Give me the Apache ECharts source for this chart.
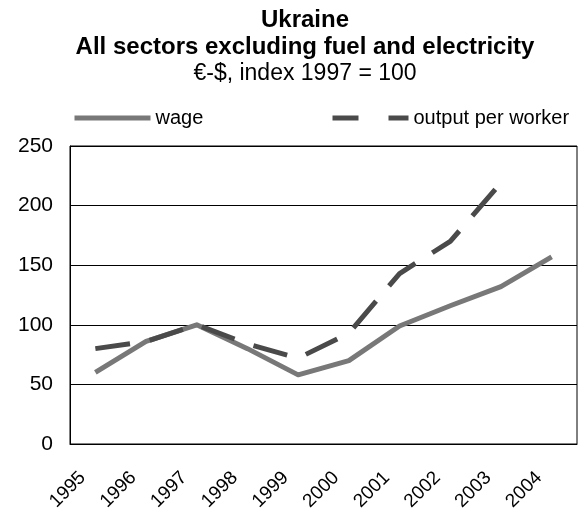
<!DOCTYPE html>
<html>
<head>
<meta charset="utf-8">
<script src="https://cdn.jsdelivr.net/npm/echarts@6/dist/echarts.min.js"></script>
<style>
  html, body { margin: 0; padding: 0; background: #fff; }
  #chart { width: 582px; height: 511px; }
</style>
</head>
<body>
<div id="chart"></div>
<script>
// Years on the category axis
const years = ['1995', '1996', '1997', '1998', '1999', '2000', '2001', '2002', '2003', '2004'];
// Index values, 1997 = 100
const wage = [60, 86, 100, 80, 58, 70, 99, 116, 132, 157];
const outputPerWorker = [80, 86, 100, 84, 72, 93, 143, 170, 219, null];
// Value axis ticks
const yTicks = [0, 50, 100, 150, 200, 250];

const FONT = 'Liberation Sans, Arial, sans-serif';
const WAGE_COLOR = '#787878';
const OUTPUT_COLOR = '#4a4a4a';

const chart = echarts.init(document.getElementById('chart'), null, { renderer: 'canvas' });

const titleStyle = (size, weight) => ({ fontFamily: FONT, fontSize: size, fontWeight: weight, color: '#000' });
const legendBase = {
  orient: 'horizontal', padding: 0, itemHeight: 20, itemWidth: 76, itemGap: 0,
  itemStyle: { opacity: 0 },
  textStyle: { fontFamily: FONT, fontSize: 20, color: '#000' }
};

chart.setOption({
  animation: false,
  backgroundColor: '#ffffff',
  title: [
    { text: 'Ukraine', left: 305, textAlign: 'center', top: 8, padding: 0, textStyle: titleStyle(24, 'bold') },
    { text: 'All sectors excluding fuel and electricity', left: 305, textAlign: 'center', top: 35, padding: 0,
      textStyle: titleStyle(24, 'bold') },
    { text: '€-$, index 1997 = 100', left: 305, textAlign: 'center', top: 62, padding: 0,
      textStyle: titleStyle(23, 'normal') }
  ],
  legend: [
    Object.assign({}, legendBase, { data: ['wage'], left: 72, top: 108,
      lineStyle: { type: 'solid', width: 5, cap: 'butt' } }),
    Object.assign({}, legendBase, { data: ['output per worker'], left: 330, top: 108,
      lineStyle: { type: [26, 30], width: 5, cap: 'butt' } })
  ],
  grid: {
    left: 70, right: 5, top: 146, bottom: 67,
    outerBoundsMode: 'none',
    containLabel: false,
    show: true, borderColor: '#000', borderWidth: 1, backgroundColor: 'transparent'
  },
  xAxis: {
    type: 'category',
    data: years,
    boundaryGap: true,
    axisLine: { lineStyle: { color: '#000', width: 1 } },
    axisTick: { inside: true, length: 7, lineStyle: { color: '#000' } },
    axisLabel: {
      rotate: 45, margin: 18, interval: 0, padding: [0, 18, 0, 0],
      fontFamily: FONT, fontSize: 19, color: '#000'
    }
  },
  yAxis: {
    type: 'value',
    min: yTicks[0],
    max: yTicks[yTicks.length - 1],
    interval: 50,
    axisLine: { show: true, lineStyle: { color: '#000', width: 1 } },
    axisTick: { show: false },
    splitLine: { lineStyle: { color: '#000', width: 1 } },
    axisLabel: { margin: 17, fontFamily: FONT, fontSize: 21, color: '#000' }
  },
  series: [
    {
      name: 'wage', type: 'line', data: wage,
      showSymbol: false, symbol: 'none',
      lineStyle: { color: WAGE_COLOR, width: 5, cap: 'butt', join: 'round' },
      itemStyle: { color: WAGE_COLOR }
    },
    {
      name: 'output per worker', type: 'line', data: outputPerWorker,
      showSymbol: false, symbol: 'none',
      lineStyle: { color: OUTPUT_COLOR, width: 5, type: [35, 20], cap: 'butt', join: 'round' },
      itemStyle: { color: OUTPUT_COLOR }
    }
  ]
});
</script>
</body>
</html>
